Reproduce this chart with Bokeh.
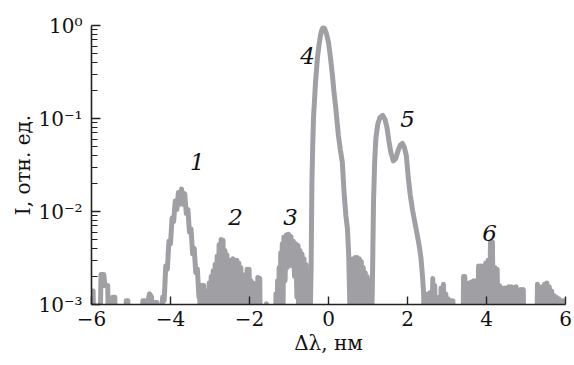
from bokeh.plotting import figure
from bokeh.models import Range1d, FixedTicker, ColumnDataSource
from bokeh.core.properties import value
from bokeh.embed import file_html
from bokeh.resources import INLINE

# ---- spectrum (Δλ in nm, I in rel. units) ----
noise_left_x = [-6.00, -5.96, -5.93, -5.79, -5.76, -5.69, -5.66, -5.59, -5.56,
                -5.48, -5.46, -5.41, -5.38, -5.15, -5.12, -5.08, -5.05,
                -4.72, -4.70, -4.65, -4.62, -4.56, -4.53, -4.48, -4.45, -4.39, -4.34, -4.31]
noise_left_i = [1.4e-3, 1.4e-3, 3e-4, 3e-4, 2.1e-3, 2.1e-3, 1.6e-3, 1.6e-3, 3e-4,
                3e-4, 1.2e-3, 1.2e-3, 3e-4, 3e-4, 1.1e-3, 1.1e-3, 3e-4,
                3e-4, 1.1e-3, 1.1e-3, 3e-4, 1.15e-3, 1.3e-3, 1.2e-3, 3e-4, 1.05e-3, 1.05e-3, 3e-4]

peak1_x = [-4.24, -4.20, -4.16, -4.12, -4.08, -4.04, -4.00, -3.96, -3.92, -3.88, -3.84,
           -3.80, -3.76, -3.72, -3.68, -3.64, -3.60, -3.56, -3.52, -3.48, -3.44, -3.40,
           -3.36, -3.32, -3.28, -3.26, -3.24, -3.22, -3.21, -3.16, -3.14]
peak1_i = [3e-4, 1.2e-3, 1.1e-3, 2.6e-3, 2.4e-3, 4.8e-3, 4.5e-3, 8.5e-3, 7.8e-3, 1.3e-2, 1.05e-2,
           1.6e-2, 1.2e-2, 1.75e-2, 1.2e-2, 1.55e-2, 9.5e-3, 1.05e-2, 6.0e-3, 6.5e-3, 3.5e-3, 4.0e-3,
           2.2e-3, 2.4e-3, 1.2e-3, 1.4e-3, 3e-4, 3e-4, 1.6e-3, 1.6e-3, 3e-4]

peak2_x = [-3.09, -3.07, -3.045, -3.02, -2.995, -2.97, -2.945, -2.92, -2.895, -2.87, -2.845,
           -2.82, -2.795, -2.77, -2.745, -2.72, -2.695, -2.67, -2.645, -2.62, -2.60, -2.57,
           -2.545, -2.52, -2.495, -2.47, -2.445, -2.42, -2.395, -2.37, -2.345, -2.32, -2.295,
           -2.27, -2.245, -2.22, -2.195, -2.17, -2.145, -2.12, -2.09, -2.06, -2.035, -2.01,
           -1.985, -1.96, -1.935, -1.91, -1.89, -1.80, -1.79, -1.74, -1.72, -1.59, -1.57, -1.55]
peak2_i = [3e-4, 1.4e-3, 3e-4, 1.7e-3, 3e-4, 2.0e-3, 3e-4, 2.3e-3, 3e-4, 2.7e-3, 3e-4,
           3.3e-3, 3e-4, 4.4e-3, 3e-4, 5.0e-3, 3e-4, 4.9e-3, 3e-4, 3.8e-3, 3e-4, 3.4e-3,
           3e-4, 2.8e-3, 3e-4, 3.0e-3, 3e-4, 3.1e-3, 3e-4, 3.0e-3, 3e-4, 3.0e-3, 3e-4,
           2.8e-3, 3e-4, 2.5e-3, 3e-4, 2.1e-3, 3e-4, 1.85e-3, 3e-4, 2.4e-3, 3e-4, 2.4e-3,
           3e-4, 1.8e-3, 3e-4, 1.7e-3, 3e-4, 3e-4, 1.95e-3, 1.9e-3, 3e-4, 3e-4, 1.02e-3, 3e-4]

peak3_x = [-1.35, -1.33, -1.31, -1.29, -1.27, -1.25, -1.23, -1.21, -1.19, -1.17, -1.15,
           -1.13, -1.10, -1.07, -1.04, -1.01, -0.98, -0.95, -0.92, -0.89, -0.86, -0.83,
           -0.80, -0.77, -0.75, -0.72, -0.70, -0.67, -0.65, -0.62, -0.60, -0.57, -0.55,
           -0.52, -0.50]
peak3_i = [3e-4, 1.3e-3, 3e-4, 1.8e-3, 3e-4, 2.5e-3, 3e-4, 3.6e-3, 6e-4, 4.5e-3, 1.0e-3,
           5.3e-3, 1.8e-3, 5.6e-3, 2.5e-3, 5.7e-3, 2.8e-3, 5.4e-3, 2.6e-3, 4.8e-3, 2.0e-3, 4.5e-3,
           1.2e-3, 4.3e-3, 3e-4, 3.8e-3, 3e-4, 3.5e-3, 3e-4, 3.1e-3, 3e-4, 2.7e-3, 3e-4,
           2.2e-3, 3e-4]

peak4_x = [-0.47, -0.44, -0.42, -0.40, -0.38, -0.33, -0.28, -0.24, -0.20, -0.16, -0.13,
           -0.10, -0.06, 0.00, 0.05, 0.10, 0.14, 0.18, 0.22, 0.25, 0.30, 0.35, 0.39, 0.44,
           0.48, 0.51, 0.54, 0.56]
peak4_i = [5e-4, 2.5e-3, 0.02, 0.05, 0.10, 0.24, 0.45, 0.62, 0.80, 0.92, 0.95,
           0.93, 0.84, 0.66, 0.45, 0.29, 0.19, 0.135, 0.09, 0.066, 0.046, 0.034, 0.017, 0.009,
           6.5e-3, 3.5e-3, 1.0e-3, 3e-4]

gap45_x = [0.58, 0.605, 0.63, 0.655, 0.68, 0.705, 0.73, 0.755, 0.78, 0.805, 0.83, 0.855,
           0.88, 0.905, 0.93, 0.955, 0.98, 1.005, 1.03, 1.055]
gap45_i = [2.8e-3, 3e-4, 3.1e-3, 3e-4, 3.2e-3, 3e-4, 3.2e-3, 3e-4, 3.1e-3, 3e-4, 2.9e-3, 3e-4,
           2.5e-3, 3e-4, 2.2e-3, 3e-4, 2.0e-3, 3e-4, 1.8e-3, 3e-4]

peak5_x = [1.08, 1.11, 1.14, 1.17, 1.20, 1.25, 1.30, 1.37, 1.43, 1.48, 1.53, 1.58, 1.64,
           1.70, 1.76, 1.82, 1.87, 1.92, 1.97, 2.02, 2.07, 2.13, 2.19, 2.25, 2.30, 2.34,
           2.38, 2.41]
peak5_i = [3e-4, 1.5e-3, 0.013, 0.035, 0.062, 0.088, 0.102, 0.108, 0.098, 0.08, 0.057, 0.043, 0.035,
           0.037, 0.045, 0.052, 0.054, 0.049, 0.04, 0.023, 0.015, 0.0102, 7.5e-3, 5.5e-3, 4.2e-3, 3.2e-3,
           2.0e-3, 1.3e-3]

tail5_x = [2.43, 2.46, 2.49, 2.52, 2.55, 2.58, 2.61, 2.64, 2.67, 2.69, 2.71,
           2.76, 2.79, 2.82, 2.85, 2.88, 2.91, 2.94, 2.97, 3.00, 3.03, 3.06, 3.09, 3.12, 3.15, 3.18]
tail5_i = [3e-4, 1.3e-3, 3e-4, 1.3e-3, 3e-4, 1.35e-3, 3e-4, 1.9e-3, 3e-4, 1.6e-3, 3e-4,
           3e-4, 1.2e-3, 3e-4, 1.5e-3, 3e-4, 1.65e-3, 3e-4, 1.3e-3, 3e-4, 1.15e-3, 3e-4, 1.1e-3, 3e-4, 1.1e-3, 3e-4]

peak6_x = [3.40, 3.42, 3.45, 3.47, 3.50, 3.53, 3.56, 3.59, 3.62, 3.65, 3.68, 3.71, 3.74, 3.77,
           3.80, 3.83, 3.86, 3.89, 3.92, 3.95, 3.98, 4.01, 4.04, 4.07, 4.10, 4.13, 4.15, 4.18,
           4.21, 4.24, 4.27, 4.30, 4.33, 4.36, 4.39, 4.42, 4.45, 4.48, 4.51, 4.54, 4.57, 4.60,
           4.63, 4.66, 4.69, 4.72, 4.75, 4.78, 4.81, 4.84, 4.87, 4.90, 4.93, 4.96]
peak6_i = [3e-4, 2.0e-3, 2.0e-3, 3e-4, 1.65e-3, 3e-4, 1.7e-3, 3e-4, 1.75e-3, 3e-4, 1.8e-3, 3e-4, 1.8e-3, 3e-4,
           2.6e-3, 3e-4, 2.6e-3, 3e-4, 2.6e-3, 3e-4, 2.8e-3, 3e-4, 3.0e-3, 3e-4, 4.7e-3, 3e-4, 4.7e-3, 3e-4,
           2.5e-3, 3e-4, 2.4e-3, 3e-4, 1.6e-3, 3e-4, 1.5e-3, 3e-4, 1.5e-3, 3e-4, 1.5e-3, 3e-4, 1.55e-3, 3e-4,
           1.55e-3, 3e-4, 1.5e-3, 3e-4, 1.55e-3, 3e-4, 1.1e-3, 3e-4, 1.45e-3, 3e-4, 1.45e-3, 3e-4]

noise_right_x = [5.27, 5.29, 5.32, 5.35, 5.38, 5.41, 5.44, 5.47, 5.50, 5.53, 5.56, 5.59, 5.62,
                 5.65, 5.68, 5.71, 5.74, 5.77, 5.80, 5.83, 5.86, 5.89, 5.92, 5.95, 5.98]
noise_right_i = [3e-4, 1.65e-3, 3e-4, 1.5e-3, 3e-4, 1.55e-3, 3e-4, 1.65e-3, 3e-4, 1.7e-3, 3e-4, 1.55e-3, 3e-4,
                 1.4e-3, 3e-4, 1.25e-3, 3e-4, 1.2e-3, 3e-4, 1.15e-3, 3e-4, 1.1e-3, 3e-4, 1.1e-3, 3e-4]

dl = (noise_left_x + peak1_x + peak2_x + peak3_x + peak4_x + gap45_x +
      peak5_x + tail5_x + peak6_x + noise_right_x)
inten = (noise_left_i + peak1_i + peak2_i + peak3_i + peak4_i + gap45_i +
         peak5_i + tail5_i + peak6_i + noise_right_i)

# ---- peak numbers ----
peak_labels = ["1", "2", "3", "4", "5", "6"]
peak_label_x = [-3.32, -2.35, -0.96, -0.53, 2.0, 4.08]
peak_label_y = [0.034, 8.7e-3, 8.7e-3, 0.475, 0.10, 5.9e-3]

# ---- ticks ----
x_ticks = [-6, -4, -2, 0, 2, 4, 6]
x_tick_labels = ["\u22126", "\u22124", "\u22122", "0", "2", "4", "6"]
y_ticks = [1e-3, 1e-2, 1e-1, 1.0]
y_tick_labels = ["10\u207b\u00b3", "10\u207b\u00b2", "10\u207b\u00b9", "10\u2070"]
y_minor = [m * 10.0 ** e for e in (-3, -2, -1) for m in range(2, 10)]

FONT = "DejaVu Serif"
LINE_COLOR = "#a0a0a4"
AXIS_COLOR = "#222222"

p = figure(width=574, height=365, output_backend="svg", toolbar_location=None,
           y_axis_type="log", x_range=Range1d(-6, 6), y_range=Range1d(1e-3, 1.0),
           min_border_left=91, min_border_right=9, min_border_top=25, min_border_bottom=61)
p.outline_line_color = None
p.grid.visible = False
p.background_fill_color = "white"
p.border_fill_color = "white"

src = ColumnDataSource(dict(dl=dl, inten=inten))
p.line("dl", "inten", source=src, line_width=5, line_color=LINE_COLOR, line_join="round")

lab_src = ColumnDataSource(dict(x=peak_label_x, y=peak_label_y, t=peak_labels))
p.text("x", "y", text="t", source=lab_src, text_font=value(FONT), text_font_style="italic",
       text_font_size="23px", text_align="center", text_baseline="middle", text_color="#111111")

# axes
for ax in (p.xaxis, p.yaxis):
    ax.axis_line_color = AXIS_COLOR
    ax.axis_line_width = 1.6
    ax.major_tick_line_color = AXIS_COLOR
    ax.major_tick_line_width = 1.4
    ax.minor_tick_line_color = AXIS_COLOR
    ax.minor_tick_line_width = 1.2
    ax.major_tick_out = 0
    ax.minor_tick_out = 0
    ax.major_label_text_font = FONT
    ax.major_label_text_font_size = "20px"
    ax.major_label_text_color = "#111111"
    ax.axis_label_text_font = FONT
    ax.axis_label_text_font_size = "20px"
    ax.axis_label_text_font_style = "normal"
    ax.axis_label_text_color = "#111111"

p.xaxis.ticker = FixedTicker(ticks=x_ticks, minor_ticks=[])
p.xaxis.major_label_overrides = dict(zip(x_ticks, x_tick_labels))
p.xaxis.major_tick_in = 8
p.xaxis.minor_tick_in = 0
p.xaxis.major_label_standoff = 6
p.xaxis.axis_label = "\u0394\u03bb, \u043d\u043c"
p.xaxis.axis_label_standoff = 2

p.yaxis.ticker = FixedTicker(ticks=y_ticks, minor_ticks=y_minor)
p.yaxis.major_label_overrides = dict(zip(y_ticks, y_tick_labels))
p.yaxis.major_tick_in = 9
p.yaxis.minor_tick_in = 6
p.yaxis.major_label_standoff = 9
p.yaxis.axis_label = "I, \u043e\u0442\u043d. \u0435\u0434."
p.yaxis.axis_label_standoff = 0

open("out.html", "w").write(file_html(p, INLINE))
